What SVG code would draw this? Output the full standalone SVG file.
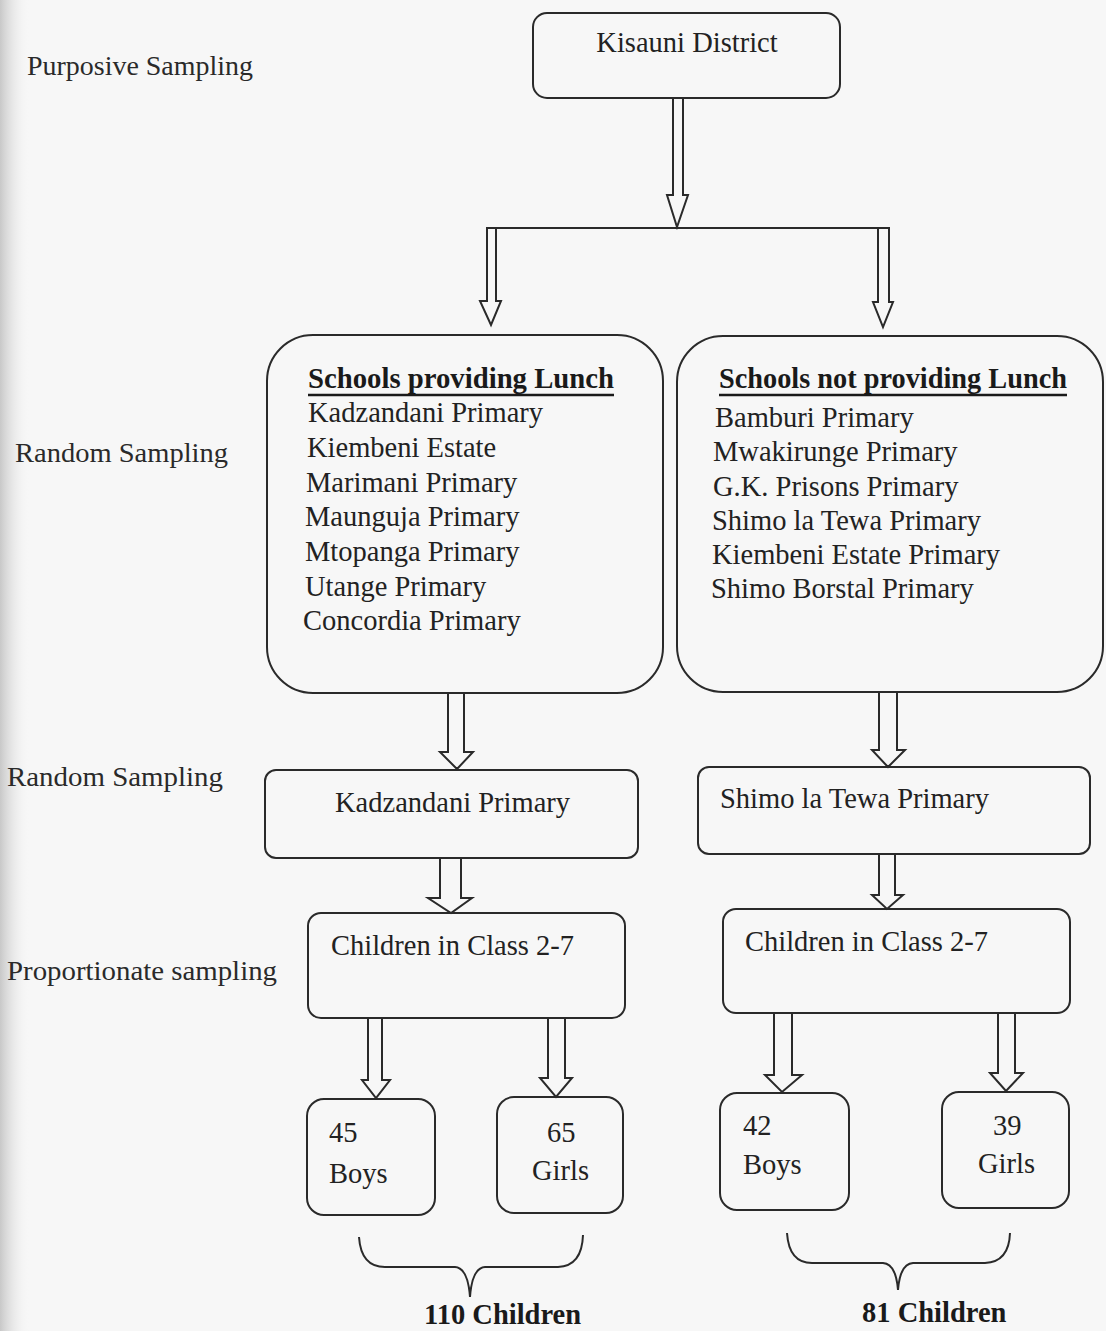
<svg xmlns="http://www.w3.org/2000/svg" width="1106" height="1331" viewBox="0 0 1106 1331">
<defs>
<linearGradient id="edge" x1="0" y1="0" x2="1" y2="0">
<stop offset="0" stop-color="#c8c8c8"/>
<stop offset="1" stop-color="#f7f7f7" stop-opacity="0"/>
</linearGradient>
</defs>
<style>
.box{fill:none;stroke:#2a2a2a;stroke-width:2}
.arr{fill:none;stroke:#2a2a2a;stroke-width:2;stroke-linejoin:miter}
.t{font-family:"Liberation Serif","Times New Roman",serif;font-size:28.5px;fill:#222}
.b{font-family:"Liberation Serif","Times New Roman",serif;font-size:28.5px;font-weight:bold;fill:#1a1a1a}
.lab{font-family:"Liberation Serif","Times New Roman",serif;font-size:28px;fill:#2a2a2a}
.ul{stroke:#1a1a1a;stroke-width:2.5}
</style>
<rect x="0" y="0" width="1106" height="1331" fill="#f7f7f7"/>
<rect x="0" y="0" width="30" height="1331" fill="url(#edge)"/>

<g id="labels">
<text class="lab" x="27" y="75" textLength="226" lengthAdjust="spacingAndGlyphs">Purposive Sampling</text>
<text class="lab" x="15" y="462" textLength="213" lengthAdjust="spacingAndGlyphs">Random Sampling</text>
<text class="lab" x="7" y="786" textLength="216" lengthAdjust="spacingAndGlyphs">Random Sampling</text>
<text class="lab" x="7" y="980" textLength="270" lengthAdjust="spacingAndGlyphs">Proportionate sampling</text>
</g>

<g id="kisauni">
<rect class="box" x="533" y="13" width="307" height="85" rx="14"/>
<text class="t" x="687" y="52" text-anchor="middle">Kisauni District</text>
</g>

<g id="lunch-schools">
<rect class="box" x="267" y="335" width="396" height="358" rx="46"/>
<text class="b" x="308" y="388" textLength="306" lengthAdjust="spacingAndGlyphs">Schools providing Lunch</text>
<line class="ul" x1="308" y1="395" x2="614" y2="395"/>
<text class="t" x="308" y="422">Kadzandani Primary</text>
<text class="t" x="307" y="457">Kiembeni Estate</text>
<text class="t" x="306" y="492">Marimani Primary</text>
<text class="t" x="305" y="526">Maunguja Primary</text>
<text class="t" x="305" y="561">Mtopanga Primary</text>
<text class="t" x="305" y="596">Utange Primary</text>
<text class="t" x="303" y="630">Concordia Primary</text>
</g>

<g id="nolunch-schools">
<rect class="box" x="677" y="336" width="426" height="356" rx="46"/>
<text class="b" x="719" y="388" textLength="348" lengthAdjust="spacingAndGlyphs">Schools not providing Lunch</text>
<line class="ul" x1="719" y1="395" x2="1067" y2="395"/>
<text class="t" x="715" y="427">Bamburi Primary</text>
<text class="t" x="713" y="461">Mwakirunge Primary</text>
<text class="t" x="713" y="496">G.K. Prisons Primary</text>
<text class="t" x="712" y="530">Shimo la Tewa Primary</text>
<text class="t" x="712" y="564">Kiembeni Estate Primary</text>
<text class="t" x="711" y="598">Shimo Borstal Primary</text>
</g>

<g id="kadzandani">
<rect class="box" x="265" y="770" width="373" height="88" rx="11"/>
<text class="t" x="335" y="812">Kadzandani Primary</text>
</g>

<g id="shimo">
<rect class="box" x="698" y="767" width="392" height="87" rx="11"/>
<text class="t" x="720" y="808">Shimo la Tewa Primary</text>
</g>

<g id="children-left">
<rect class="box" x="308" y="913" width="317" height="105" rx="13"/>
<text class="t" x="331" y="955">Children in Class 2-7</text>
</g>

<g id="children-right">
<rect class="box" x="723" y="909" width="347" height="104" rx="13"/>
<text class="t" x="745" y="951">Children in Class 2-7</text>
</g>

<g id="boys-left">
<rect class="box" x="307" y="1099" width="128" height="116" rx="17"/>
<text class="t" x="329" y="1142">45</text>
<text class="t" x="329" y="1183">Boys</text>
</g>

<g id="girls-left">
<rect class="box" x="497" y="1097" width="126" height="116" rx="17"/>
<text class="t" x="547" y="1142">65</text>
<text class="t" x="532" y="1180">Girls</text>
</g>

<g id="boys-right">
<rect class="box" x="720" y="1093" width="129" height="117" rx="17"/>
<text class="t" x="743" y="1135">42</text>
<text class="t" x="743" y="1174">Boys</text>
</g>

<g id="girls-right">
<rect class="box" x="942" y="1092" width="127" height="116" rx="17"/>
<text class="t" x="993" y="1135">39</text>
<text class="t" x="978" y="1173">Girls</text>
</g>

<g id="total-left">
<text class="b" x="424" y="1324">110 Children</text>
</g>
<g id="total-right">
<text class="b" x="862" y="1322">81 Children</text>
</g>

<g id="connectors">
<polygon class="arr" points="673,98 673,195 667,195 677,227 688,195 683,195 683,98"/>
<line class="arr" x1="487" y1="228" x2="889" y2="228"/>
<polygon class="arr" points="487,228 487,301 480,301 491,325 501,301 496,301 496,228"/>
<polygon class="arr" points="878,228 878,302 873,302 883,327 893,302 889,302 889,228"/>
<polygon class="arr" points="448,693 448,752 440,752 457,769 473,752 464,752 464,693"/>
<polygon class="arr" points="440,858 440,898 428,898 451,913 472,898 461,898 461,858"/>
<polygon class="arr" points="368,1018 368,1080 362,1080 376,1098 390,1080 382,1080 382,1018"/>
<polygon class="arr" points="548,1018 548,1078 540,1078 556,1097 572,1078 565,1078 565,1018"/>
<polygon class="arr" points="879,692 879,750 872,750 888,767 905,750 897,750 897,692"/>
<polygon class="arr" points="879,854 879,895 872,895 887,909 903,895 895,895 895,854"/>
<polygon class="arr" points="774,1013 774,1075 765,1075 782,1092 802,1075 792,1075 792,1013"/>
<polygon class="arr" points="998,1013 998,1073 990,1073 1006,1091 1023,1073 1015,1073 1015,1013"/>
<path class="arr" d="M359,1237 Q361,1267 385,1267 L455,1267 Q468,1268 470,1297 Q472,1268 485,1267 L558,1267 Q582,1266 583,1235"/>
<path class="arr" d="M787,1233 Q789,1263 812,1263 L883,1263 Q896,1264 898,1290 Q900,1264 913,1263 L985,1263 Q1009,1262 1010,1233"/>
</g>
</svg>
